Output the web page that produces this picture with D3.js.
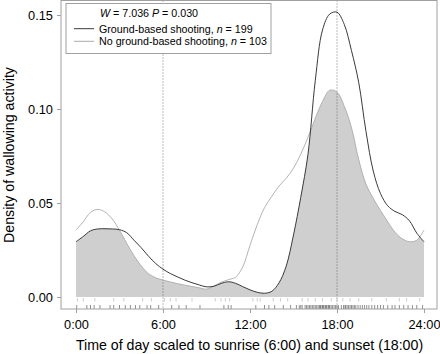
<!DOCTYPE html>
<html><head><meta charset="utf-8">
<script src="https://cdn.jsdelivr.net/npm/d3@7"></script>
<style>
html,body{margin:0;padding:0;background:#fff;}
svg{display:block;font-family:"Liberation Sans",Arial,Helvetica,sans-serif;}
</style></head>
<body>
<svg id="chart" width="440" height="354"></svg>
<script>
// hours grid (0:00 - 24:00, every 30 min)
const hours = [0,0.5,1,1.5,2,2.5,3,3.5,4,4.5,5,5.5,6,6.5,7,7.5,8,8.5,9,9.5,10,10.5,11,11.5,12,12.5,13,13.5,14,14.5,15,15.5,16,16.5,17,17.5,18,18.5,19,19.5,20,20.5,21,21.5,22,22.5,23,23.5,24];
// Ground-based shooting, n = 199
const groundDensity = [0.0294,0.0322,0.0352,0.0362,0.0363,0.0362,0.0358,0.0342,0.0302,0.0262,0.0217,0.0178,0.0148,0.0125,0.0107,0.0090,0.0076,0.0064,0.0054,0.0057,0.0072,0.0081,0.0073,0.0055,0.0038,0.0025,0.0020,0.0030,0.0075,0.0165,0.0330,0.0530,0.0760,0.1150,0.1420,0.1505,0.1515,0.1450,0.1310,0.1140,0.0880,0.0670,0.0550,0.0485,0.0455,0.0438,0.0405,0.0340,0.0294];
// No ground-based shooting, n = 103
const noGroundDensity = [0.0356,0.0400,0.0450,0.0466,0.0452,0.0415,0.0355,0.0285,0.0220,0.0165,0.0124,0.0102,0.0090,0.0080,0.0071,0.0063,0.0056,0.0049,0.0042,0.0058,0.0078,0.0092,0.0105,0.0160,0.0275,0.0385,0.0475,0.0535,0.0590,0.0632,0.0685,0.0760,0.0850,0.0950,0.1040,0.1100,0.1090,0.1015,0.0900,0.0730,0.0600,0.0525,0.0460,0.0400,0.0345,0.0310,0.0294,0.0302,0.0356];
// observation times (rug)
const groundRug = [0.05,0.75,1.0,1.25,1.65,2.35,2.6,3.0,3.4,3.75,4.1,4.4,4.9,5.15,5.7,6.6,7.1,7.6,8.55,10.2,10.5,10.7,12.4,13.0,13.3,13.7,14.3,14.8,15.2,15.4,15.5,15.6,15.8,15.9,16.0,16.1,16.2,16.3,16.4,16.5,16.6,16.7,16.8,16.85,16.9,17.0,17.05,17.1,17.2,17.25,17.3,17.4,17.45,17.5,17.6,17.7,17.8,17.9,18.0,18.1,18.3,18.45,18.55,18.6,18.7,18.8,18.9,19.0,19.1,19.2,19.3,19.45,19.6,19.75,19.9,20.05,20.2,20.4,20.6,20.8,21.0,21.2,21.5,21.8,22.0,22.3,22.6,22.9,23.2,23.5,23.9];
const noGroundRug = [0.1,0.5,1.3,2.6,3.3,4.6,5.2,6.1,6.5,6.9,8.0,9.6,10.0,10.3,10.6,12.2,12.5,12.7,13.6,14.1,14.6,15.6,16.0,16.5,17.0,17.6,18.0,18.4,18.9,19.5,20.4,21.4,22.3,22.8,23.7];
const xTicks = [0,6,12,18,24];
const xTickLabels = ["0:00","6:00","12:00","18:00","24:00"];
const yTicks = [0,0.05,0.10,0.15];
const refLines = [6,18];

const svg = d3.select("#chart");
const x = d3.scaleLinear().domain([0,24]).range([76,424]);
const y = d3.scaleLinear().domain([0,0.15]).range([297,15]);
const frame = {l:61, r:437, t:0.5, b:309};

const rows = hours.map((h,i)=>({h, g:groundDensity[i], n:noGroundDensity[i]}));
const curve = d3.curveCatmullRom.alpha(0.5);

// overlap fill = area under ground curve clipped by area under no-ground curve
const areaN = d3.area().x(d=>x(d.h)).y0(y(0)).y1(d=>y(d.n)).curve(curve);
const areaG = d3.area().x(d=>x(d.h)).y0(y(0)).y1(d=>y(d.g)).curve(curve);
svg.append("defs").append("clipPath").attr("id","clipN")
  .append("path").datum(rows).attr("d",areaN);
svg.append("path").datum(rows).attr("d",areaG)
  .attr("fill","#cfcfcf").attr("clip-path","url(#clipN)");

// reference dotted lines
svg.selectAll(".ref").data(refLines).enter().append("line")
  .attr("x1",d=>x(d)).attr("x2",d=>x(d)).attr("y1",frame.t).attr("y2",frame.b)
  .attr("stroke","#444").attr("stroke-width",0.7).attr("stroke-dasharray","1,2");

// curves
svg.append("path").datum(rows)
  .attr("d", d3.line().x(d=>x(d.h)).y(d=>y(d.n)).curve(curve))
  .attr("fill","none").attr("stroke","#aaaaaa").attr("stroke-width",0.9);
svg.append("path").datum(rows)
  .attr("d", d3.line().x(d=>x(d.h)).y(d=>y(d.g)).curve(curve))
  .attr("fill","none").attr("stroke","#3a3a3a").attr("stroke-width",1);

// rugs
svg.selectAll(".rugN").data(noGroundRug).enter().append("line")
  .attr("x1",d=>x(d)).attr("x2",d=>x(d)).attr("y1",298).attr("y2",301.5)
  .attr("stroke","#aaaaaa").attr("stroke-width",0.6);
svg.selectAll(".rugG").data(groundRug).enter().append("line")
  .attr("x1",d=>x(d)).attr("x2",d=>x(d)).attr("y1",305).attr("y2",309)
  .attr("stroke","#444").attr("stroke-width",0.6);

// frame
svg.append("rect").attr("x",frame.l).attr("y",frame.t).attr("width",frame.r-frame.l).attr("height",frame.b-frame.t)
  .attr("fill","none").attr("stroke","#a0a0a0").attr("stroke-width",1);

// y axis
const yAxis = d3.axisLeft(y).tickValues(yTicks).tickFormat(d3.format(".2f")).tickSize(4).tickPadding(4);
const gy = svg.append("g").attr("transform",`translate(${frame.l},0)`).call(yAxis);
gy.select(".domain").remove();
gy.selectAll("line").attr("stroke","#a0a0a0");
gy.selectAll("text").attr("font-size","12.8px").attr("fill","#000").attr("font-family","Liberation Sans, Arial, sans-serif");

// x axis
const xAxis = d3.axisBottom(x).tickValues(xTicks).tickFormat((d,i)=>xTickLabels[i]).tickSize(4).tickPadding(7);
const gx = svg.append("g").attr("transform",`translate(0,${frame.b})`).call(xAxis);
gx.select(".domain").remove();
gx.selectAll("line").attr("stroke","#a0a0a0");
gx.selectAll("text").attr("font-size","12.8px").attr("fill","#000").attr("font-family","Liberation Sans, Arial, sans-serif");

// axis titles
svg.append("text").attr("x",249.5).attr("y",349.5).attr("text-anchor","middle")
  .attr("font-size","14.2px").text("Time of day scaled to sunrise (6:00) and sunset (18:00)");
svg.append("text").attr("transform","translate(13.5,155) rotate(-90)").attr("text-anchor","middle")
  .attr("font-size","14.2px").text("Density of wallowing activity");

// legend
const lg = svg.append("g");
lg.append("rect").attr("x",66).attr("y",3.5).attr("width",205).attr("height",50)
  .attr("fill","#fff").attr("stroke","#a0a0a0").attr("stroke-width",1);
const t1 = lg.append("text").attr("x",100).attr("y",17).attr("font-size","10.7px");
t1.append("tspan").attr("font-style","italic").text("W");
t1.append("tspan").text(" = 7.036  ");
t1.append("tspan").attr("font-style","italic").text("P");
t1.append("tspan").text(" = 0.030");
const legendItems = [
  {label:"Ground-based shooting, ", n:"199", color:"#3a3a3a", yy:28.7},
  {label:"No ground-based shooting, ", n:"103", color:"#aaaaaa", yy:41.3}
];
legendItems.forEach(it=>{
  lg.append("line").attr("x1",74).attr("x2",94).attr("y1",it.yy).attr("y2",it.yy)
    .attr("stroke",it.color).attr("stroke-width",1);
  const t = lg.append("text").attr("x",99).attr("y",it.yy+3.8).attr("font-size","10.7px");
  t.append("tspan").text(it.label);
  t.append("tspan").attr("font-style","italic").text("n");
  t.append("tspan").text(" = "+it.n);
});
</script>
</body></html>
